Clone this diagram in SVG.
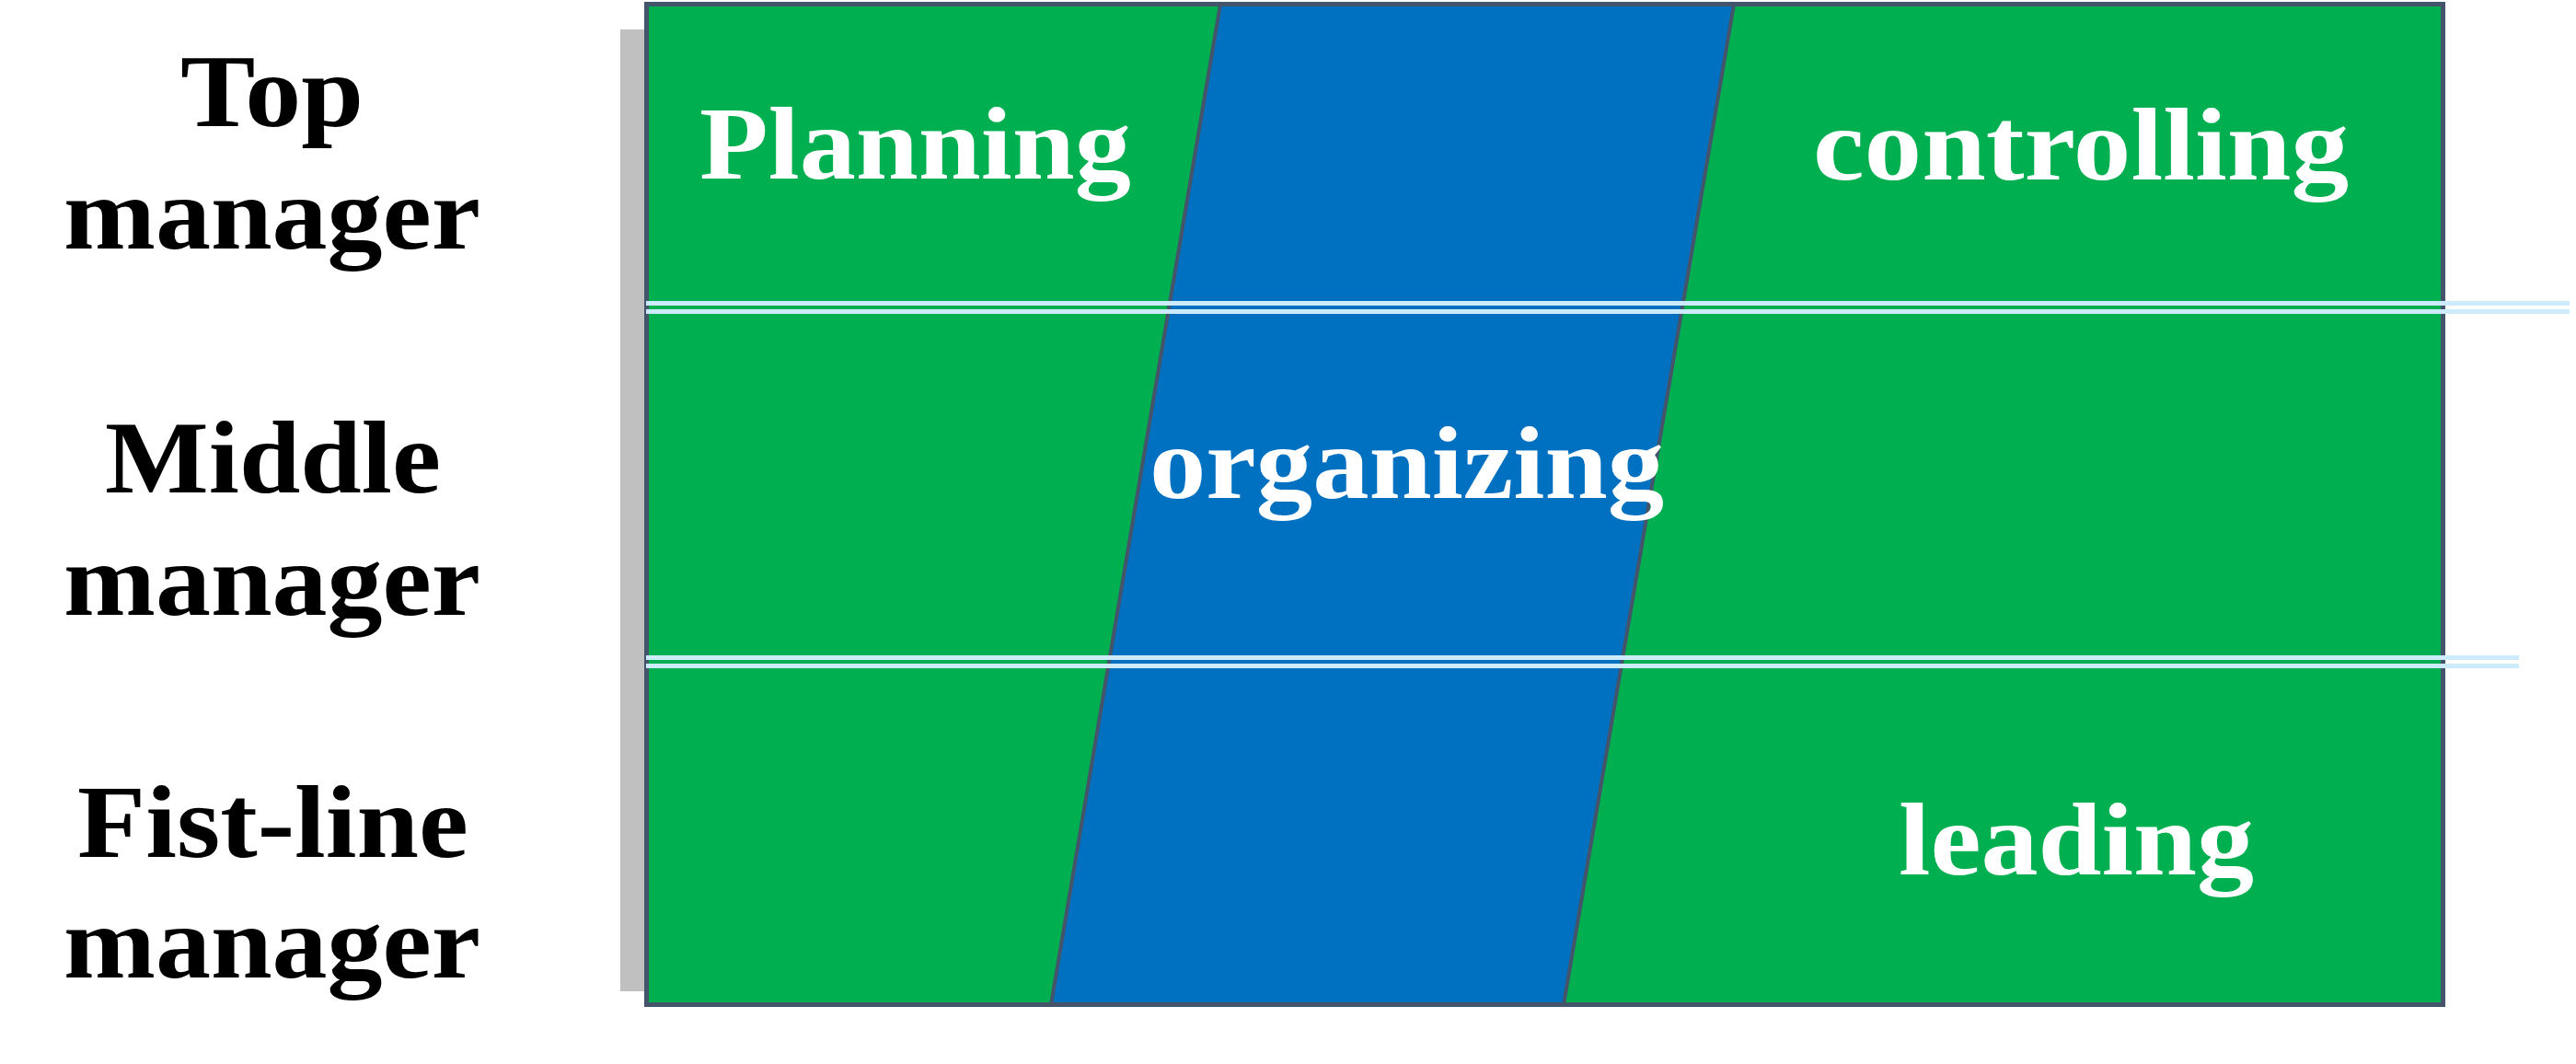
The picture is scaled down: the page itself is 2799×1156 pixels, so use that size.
<svg xmlns="http://www.w3.org/2000/svg" width="2799" height="1156" viewBox="0 0 2799 1156">
  <style>
    .lbl { font-family: "Liberation Serif", "Times New Roman", serif; font-weight: bold; font-size: 112px; }
    .dark { fill: #000000; }
    .light { fill: #FFFFFF; }
    .sep { stroke: #CCEBFD; stroke-width: 5; fill: none; }
  </style>
  <rect x="0" y="0" width="2799" height="1156" fill="#FFFFFF"/>
  <g id="shadow-bar">
    <rect x="674" y="32" width="30" height="1045" fill="#C0C0C0"/>
  </g>
  <g id="panel">
    <rect x="702.5" y="4.5" width="1952" height="1087" fill="#00AF50"/>
    <polygon id="organizing-band" points="1326,4.5 1884,4.5 1699,1091.5 1142,1091.5" fill="#0070C0" stroke="#44546A" stroke-width="4"/>
    <rect x="702.5" y="4.5" width="1952" height="1087" fill="none" stroke="#44546A" stroke-width="5"/>
  </g>
  <g id="connectors">
    <line class="sep" x1="702" y1="329.5" x2="2792" y2="329.5"/>
    <line class="sep" x1="702" y1="338.5" x2="2792" y2="338.5"/>
    <line class="sep" x1="702" y1="714.5" x2="2737" y2="714.5"/>
    <line class="sep" x1="702" y1="723.5" x2="2737" y2="723.5"/>
  </g>
  <g id="top-manager">
    <text class="lbl dark" x="196" y="137" textLength="199" lengthAdjust="spacingAndGlyphs">Top</text>
    <text class="lbl dark" x="69" y="270" textLength="453" lengthAdjust="spacingAndGlyphs">manager</text>
  </g>
  <g id="middle-manager">
    <text class="lbl dark" x="114" y="535" textLength="365" lengthAdjust="spacingAndGlyphs">Middle</text>
    <text class="lbl dark" x="69" y="668" textLength="453" lengthAdjust="spacingAndGlyphs">manager</text>
  </g>
  <g id="first-line-manager">
    <text class="lbl dark" x="84" y="931" textLength="425" lengthAdjust="spacingAndGlyphs">Fist-line</text>
    <text class="lbl dark" x="69" y="1062" textLength="453" lengthAdjust="spacingAndGlyphs">manager</text>
  </g>
  <g id="planning">
    <text class="lbl light" x="760" y="194" textLength="469" lengthAdjust="spacingAndGlyphs">Planning</text>
  </g>
  <g id="controlling">
    <text class="lbl light" x="1970" y="195" textLength="582" lengthAdjust="spacingAndGlyphs">controlling</text>
  </g>
  <g id="organizing">
    <text class="lbl light" x="1249" y="541" textLength="559" lengthAdjust="spacingAndGlyphs">organizing</text>
  </g>
  <g id="leading">
    <text class="lbl light" x="2063" y="950" textLength="386" lengthAdjust="spacingAndGlyphs">leading</text>
  </g>
</svg>
